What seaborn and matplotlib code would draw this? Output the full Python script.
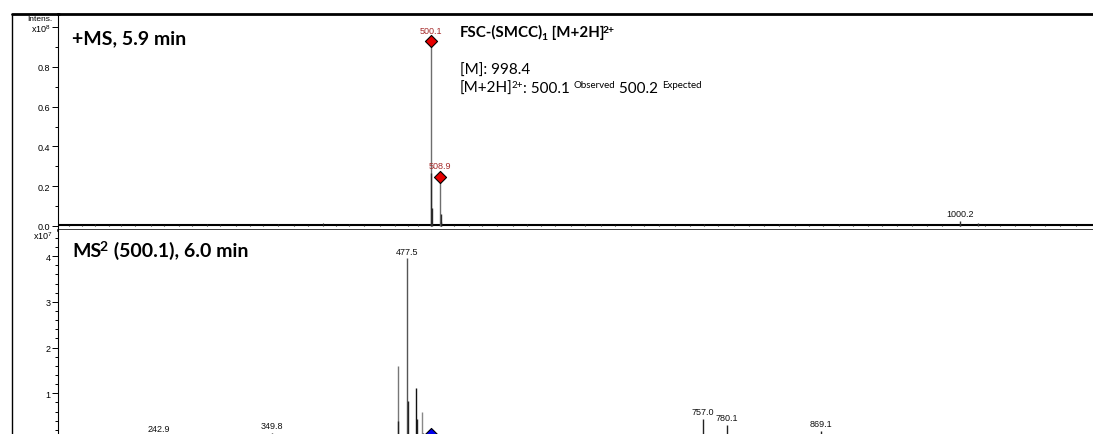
import matplotlib
matplotlib.use("Agg")
import matplotlib.pyplot as plt
from matplotlib.ticker import MultipleLocator, FixedLocator, FixedFormatter
from matplotlib.lines import Line2D
import pandas as pd
import seaborn as sns

# ---------------- data ----------------
# Full scan (+MS), intensity in units of 1e8
ms1_mz = [500.1, 500.6, 501.1, 508.9, 509.4, 509.9, 1000.2, 1000.7, 1017.4]
ms1_int = [0.93, 0.265, 0.09, 0.248, 0.06, 0.02, 0.025, 0.01, 0.012]
ms1_col = ["#6e6e6e", "#2a2a2a", "#2a2a2a", "#6e6e6e", "#2a2a2a", "#2a2a2a",
           "#333333", "#333333", "#333333"]

# baseline chemical noise of the full scan
ms1_noise_mz = [158, 171, 183, 196, 207, 221, 236, 248, 262, 275, 289, 301,
                316, 329, 342, 356, 371, 384, 398, 411, 423, 437, 452, 466,
                479, 488, 522, 536, 549, 563, 578, 591, 604, 618, 633, 646,
                661, 674, 689, 702, 716, 731, 745, 758, 772, 787, 801, 815,
                829, 844, 858, 871, 886, 899, 913, 927, 941, 955, 969, 983,
                1024, 1038, 1052, 1066, 1081, 1095, 1110]
ms1_noise_int = [0.006, 0.004, 0.008, 0.005, 0.007, 0.004, 0.009, 0.005,
                 0.006, 0.004, 0.007, 0.010, 0.005, 0.006, 0.004, 0.008,
                 0.005, 0.006, 0.012, 0.004, 0.007, 0.005, 0.006, 0.009,
                 0.006, 0.008, 0.005, 0.007, 0.004, 0.006, 0.005, 0.008,
                 0.004, 0.006, 0.005, 0.007, 0.009, 0.005, 0.006, 0.004,
                 0.007, 0.005, 0.006, 0.011, 0.005, 0.007, 0.004, 0.006,
                 0.008, 0.005, 0.006, 0.004, 0.007, 0.005, 0.006, 0.004,
                 0.005, 0.007, 0.004, 0.006, 0.005, 0.004, 0.006, 0.003,
                 0.005, 0.004, 0.003]

ms1_marked_mz = [500.1, 508.9]
ms1_marked_int = [0.93, 0.248]
ms1_text_mz = [1000.2]
ms1_text_int = [0.025]

# MS/MS of 500.1, intensity in units of 1e7
ms2_mz = [242.9, 349.8, 468.9, 469.4, 477.5, 478.6, 486.5, 487.3, 491.6,
          492.4, 757.0, 780.1, 869.1]
ms2_int = [0.08, 0.14, 1.60, 0.40, 3.95, 0.84, 1.11, 0.44, 0.60, 0.12,
           0.44, 0.30, 0.17]
ms2_col = ["#222222", "#222222", "#777777", "#222222", "#555555", "#222222",
           "#111111", "#222222", "#888888", "#222222", "#222222", "#222222",
           "#222222"]
ms2_labels = ["242.9", "349.8", "477.5", "757.0", "780.1", "869.1"]
ms2_label_mz = [242.9, 349.8, 477.5, 757.0, 780.1, 869.1]
ms2_label_int = [0.08, 0.14, 3.95, 0.44, 0.30, 0.17]
ms2_precursor_mz = [500.1]
ms2_precursor_int = [0.10]

# ---------------- style ----------------
sns.set_theme(style="white")
plt.rcParams["font.family"] = ["Liberation Sans", "DejaVu Sans"]
plt.rcParams["mathtext.fontset"] = "custom"
plt.rcParams["mathtext.rm"] = "Liberation Sans"

W, H = 1093, 435
fig = plt.figure(figsize=(W / 100, H / 100), dpi=100)
renderer = fig.canvas.get_renderer()


def fx(px):
    return px / W


def fy(py):
    return 1 - py / H


def rich_line(x_px, base_px, pieces, family="Lato"):
    """Draw a run of text pieces (text, size, rise_px, weight, dx_px) left to right."""
    x = x_px
    for txt, size, rise, weight, dx in pieces:
        x += dx
        t = fig.text(fx(x), fy(base_px - rise), txt, fontsize=size,
                     family=family, fontweight=weight, ha="left",
                     va="baseline", color="black")
        bb = t.get_window_extent(renderer=renderer)
        x += bb.width


XMIN, XMAX = 147.9, 1126.0
ax1 = fig.add_axes([fx(58), fy(230.5), 1 - fx(58), fy(15) - fy(230.5)])
ax2 = fig.add_axes([fx(58), fy(445), 1 - fx(58), fy(230.5) - fy(445)])

for ax in (ax1, ax2):
    ax.set_xlim(XMIN, XMAX)
    ax.set_facecolor("white")
    ax.spines["right"].set_visible(False)
    ax.spines["left"].set_linewidth(0.8)
    ax.spines["left"].set_color("black")
    ax.tick_params(axis="y", which="both", direction="out", left=True,
                   labelsize=6.5, pad=1.5, colors="black", width=0.7)
    ax.tick_params(axis="y", which="major", length=4)
    ax.tick_params(axis="y", which="minor", length=2.5)
    ax.tick_params(axis="x", which="both", bottom=False, labelbottom=False)
    ax.grid(False)

# ---- top panel: full scan ----
ax1.set_ylim(-0.019, 1.067)
ax1.spines["top"].set_linewidth(2.0)
ax1.spines["top"].set_color("black")
ax1.spines["bottom"].set_linewidth(1.8)
ax1.spines["bottom"].set_color("black")
ax1.yaxis.set_major_locator(FixedLocator([0.0, 0.2, 0.4, 0.6, 0.8, 1.0]))
ax1.yaxis.set_major_formatter(FixedFormatter(["0.0", "0.2", "0.4", "0.6", "0.8",
                                              r"x10$^{\mathregular{8}}$"]))
ax1.yaxis.set_minor_locator(MultipleLocator(0.1))

ax1.axhline(0.002, color="black", lw=1.5, zorder=2)
ax1.vlines(ms1_noise_mz, 0, ms1_noise_int, color="#222222", lw=0.8)
ax1.vlines(ms1_mz, 0, ms1_int, colors=ms1_col, lw=1.0, zorder=3)

df1 = pd.DataFrame({"mz": ms1_marked_mz, "intensity": ms1_marked_int})
sns.scatterplot(data=df1, x="mz", y="intensity", ax=ax1, marker="D", s=38,
                color="#e60000", edgecolor="black", linewidth=0.8, zorder=5,
                legend=False)
for m, v in zip(ms1_marked_mz, ms1_marked_int):
    ax1.annotate(f"{m:.1f}", (m, v), xytext=(0, 4.5), textcoords="offset points",
                 ha="center", va="bottom", fontsize=6.5, color="#a52a2a")
for m, v in zip(ms1_text_mz, ms1_text_int):
    ax1.annotate(f"{m:.1f}", (m, v), xytext=(0, 2), textcoords="offset points",
                 ha="center", va="bottom", fontsize=6.5, color="#111111")
ax1.set_xlabel("")
ax1.set_ylabel("")

# ---- bottom panel: MS/MS ----
ax2.set_ylim(-0.11, 4.584)
ax2.spines["top"].set_visible(False)
ax2.spines["bottom"].set_visible(False)
ax2.yaxis.set_major_locator(FixedLocator([1, 2, 3, 4]))
ax2.yaxis.set_major_formatter(FixedFormatter(["1", "2", "3", "4"]))
ax2.yaxis.set_minor_locator(MultipleLocator(0.2))

ax2.vlines(ms2_mz, 0, ms2_int, colors=ms2_col, lw=1.0, zorder=3)
df2 = pd.DataFrame({"mz": ms2_precursor_mz, "intensity": ms2_precursor_int})
sns.scatterplot(data=df2, x="mz", y="intensity", ax=ax2, marker="D", s=38,
                color="#0000ee", edgecolor="black", linewidth=0.8, zorder=5,
                legend=False)
for lab, m, v in zip(ms2_labels, ms2_label_mz, ms2_label_int):
    ax2.annotate(lab, (m, v), xytext=(0, 2), textcoords="offset points",
                 ha="center", va="bottom", fontsize=6.5, color="#111111")
ax2.set_xlabel("")
ax2.set_ylabel("")

# ---- panel titles and assignment ----
rich_line(72, 44, [("+MS, 5.9 min", 14, 0, "bold", 0)])
rich_line(72, 257, [("MS", 14, 0, "bold", 0), ("2", 10, 6, "bold", -1.5),
                    (" (500.1), 6.0 min", 14, 0, "bold", 0.8)])
rich_line(460, 37, [("FSC-(SMCC)", 10.8, 0, "bold", 0),
                    ("1", 7.5, -2.5, "bold", -2),
                    (" [M+2H]", 10.8, 0, "bold", 0.5),
                    ("2+", 7.5, 4, "bold", -1.5)])
rich_line(460, 74.5, [("[M]: 998.4", 11, 0, "normal", 0)])
rich_line(460, 93, [("[M+2H]", 11, 0, "normal", 0),
                    ("2+", 7, 4.5, "normal", -1.5),
                    (": 500.1 ", 11, 0, "normal", 0),
                    ("Observed", 7, 4.5, "normal", 0),
                    (" 500.2 ", 11, 0, "normal", 0),
                    ("Expected", 7, 4.5, "normal", 0)])

# axis captions at the left
fig.text(fx(53), fy(19.5), "Intens.", fontsize=6, ha="right", va="center",
         color="black")
fig.text(fx(53), fy(236), r"x10$^{\mathregular{7}}$", fontsize=6.5, ha="right",
         va="center", color="black")

# outer frame
fig.add_artist(Line2D([fx(12), fx(12)], [fy(15), 0], color="black", lw=1.0,
                      transform=fig.transFigure))
fig.add_artist(Line2D([fx(12), fx(59)], [fy(15), fy(15)], color="black",
                      lw=2.0, transform=fig.transFigure))

fig.savefig("out.png", dpi=100, facecolor="white")
